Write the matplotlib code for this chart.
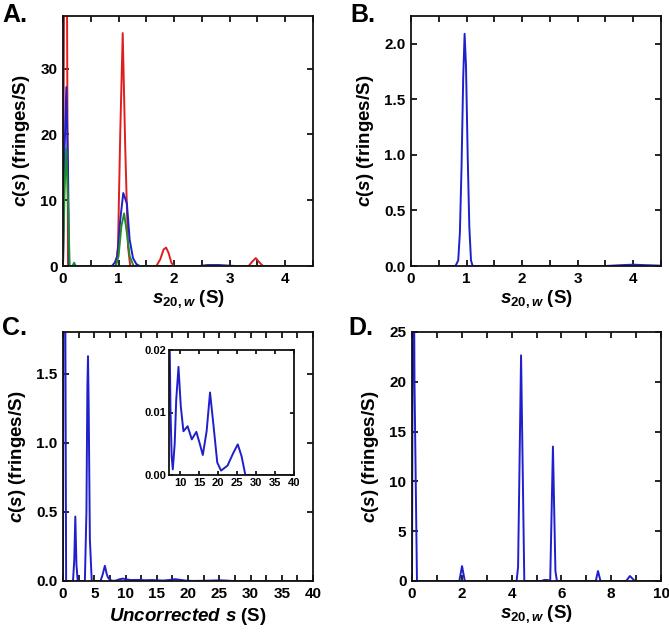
import matplotlib
matplotlib.use("Agg")
import matplotlib.pyplot as plt
from matplotlib.ticker import MultipleLocator

plt.rcParams['font.family'] = ['Liberation Sans', 'DejaVu Sans']
plt.rcParams['font.weight'] = 'bold'
plt.rcParams['axes.labelweight'] = 'bold'
plt.rcParams['mathtext.fontset'] = 'custom'
plt.rcParams['mathtext.it'] = 'Liberation Sans:italic:bold'
plt.rcParams['mathtext.rm'] = 'Liberation Sans:bold'
plt.rcParams['mathtext.bf'] = 'Liberation Sans:bold'

# ---------------- data ----------------
# Panel A
a_red_s = [0, 0.02, 0.045, 0.07, 0.09, 0.95, 0.99, 1.03, 1.075, 1.12, 1.17, 1.21,
           1.68, 1.75, 1.81, 1.855, 1.9, 1.95, 2.0, 3.34, 3.41, 3.47, 3.53, 3.6, 4.5]
a_red_c = [0, 45, 60, 45, 0, 0, 3, 20, 35.4, 18, 3, 0,
           0, 1.0, 2.5, 2.8, 2.0, 0.5, 0, 0, 0.7, 1.2, 0.6, 0, 0]
a_blue_s = [0, 0.03, 0.06, 0.09, 0.11, 0.88, 0.93, 0.98, 1.03, 1.085, 1.15, 1.2,
            1.26, 1.32, 1.38, 2.45, 2.6, 2.8, 3.0, 3.1, 4.5]
a_blue_c = [0, 18, 27.2, 15, 0, 0, 0.5, 1.5, 7, 11.1, 9.5, 4,
            1.2, 0.3, 0, 0, 0.15, 0.15, 0.05, 0, 0]
a_green_s = [0, 0.03, 0.06, 0.09, 0.12, 0.17, 0.2, 0.23, 0.95, 1.0, 1.05, 1.1,
             1.15, 1.2, 1.27, 4.5]
a_green_c = [0, 12, 17.9, 10, 0, 0, 0.5, 0, 0, 1.5, 6, 8.0,
             5, 1.5, 0, 0]

# Panel B
b_s = [0.46, 0.8, 0.85, 0.88, 0.91, 0.94, 0.965, 0.99, 1.02, 1.05, 1.08, 1.11,
       3.5, 3.8, 4.0, 4.2, 4.5]
b_c = [0, 0, 0.05, 0.3, 0.9, 1.7, 2.09, 1.8, 1.0, 0.35, 0.05, 0,
       0, 0.008, 0.012, 0.008, 0.003]

# Panel C (uncorrected s)
c_s = [0, 0.1, 0.2, 0.3, 0.5, 1.6, 1.8, 1.97, 2.15, 2.35, 3.5, 3.75, 3.9, 4.0,
       4.1, 4.3, 4.6, 6.0, 6.3, 6.7, 7.0, 7.2, 7.5, 7.8, 8.1, 8.6, 9.0, 9.6,
       10.2, 10.9, 12.0, 13.1, 14.3, 15.2, 16.0, 17.0, 17.9, 18.8, 19.8, 20.8,
       22.5, 24.0, 25.2, 26.2, 27.2, 40]
c_c = [0, 4, 6, 3, 0, 0, 0.15, 0.466, 0.12, 0, 0, 0.5, 1.4, 1.625,
       1.3, 0.3, 0, 0, 0.04, 0.11, 0.05, 0.025, 0.01, 0.003, 0.0009, 0.005, 0.012, 0.0173,
       0.011, 0.007, 0.0078, 0.0057, 0.0069, 0.005, 0.0032, 0.007, 0.0132, 0.008, 0.002, 0.0007,
       0.0015, 0.0035, 0.0049, 0.003, 0, 0]

# Panel D
d_s = [0, 0.03, 0.06, 0.1, 0.2, 1.9, 2.01, 2.12, 4.2, 4.26, 4.38, 4.51, 5.2, 5.3,
       5.45, 5.55, 5.66, 5.76, 5.82, 7.38, 7.47, 7.57, 8.6, 8.75, 8.95, 10]
d_c = [0, 30, 40, 20, 0, 0, 1.5, 0, 0, 1.4, 22.66, 0, 0, 0.1,
       0.1, 0, 13.5, 1.0, 0, 0, 1.0, 0, 0, 0.5, 0, 0]

RED = '#e01e1e'
BLUE = '#1f1fcc'
GREEN = '#1e8c2a'

W, H = 669, 637
fig = plt.figure(figsize=(W / 100, H / 100), dpi=100)


def ax_px(x0, y0, x1, y1):
    return fig.add_axes([x0 / W, (H - y1) / H, (x1 - x0) / W, (y1 - y0) / H])


def style(ax, fs=11, ticklen=4):
    for sp in ax.spines.values():
        sp.set_linewidth(1.3)
        sp.set_color('#111111')
    ax.tick_params(which='both', direction='in', top=True, right=True,
                   length=ticklen, width=1.2, labelsize=fs, pad=4)


ylab = r'$\mathit{c}$($\mathit{s}$) (fringes/S)'
xlab = r'$\mathit{s}_{\mathit{20,w}}$ (S)'
LW = 1.4
LFS = 13.5

# Panel A
ax = ax_px(63, 16, 313, 266)
ax.plot(a_red_s, a_red_c, color=RED, lw=LW)
ax.plot(a_blue_s, a_blue_c, color=BLUE, lw=LW)
ax.plot(a_green_s, a_green_c, color=GREEN, lw=LW)
ax.set_xlim(0, 4.5)
ax.set_ylim(0, 38)
ax.xaxis.set_major_locator(MultipleLocator(1))
ax.xaxis.set_minor_locator(MultipleLocator(0.5))
ax.yaxis.set_major_locator(MultipleLocator(10))
style(ax)
ax.set_xlabel(xlab, fontsize=LFS, labelpad=2)
ax.set_ylabel(ylab, fontsize=LFS, labelpad=6)

# Panel B
ax = ax_px(411, 16, 661, 266)
ax.plot(b_s, b_c, color=BLUE, lw=LW)
ax.set_xlim(0, 4.5)
ax.set_ylim(0, 2.25)
ax.xaxis.set_major_locator(MultipleLocator(1))
ax.xaxis.set_minor_locator(MultipleLocator(0.5))
ax.yaxis.set_major_locator(MultipleLocator(0.5))
ax.yaxis.set_major_formatter(plt.FormatStrFormatter('%.1f'))
style(ax)
ax.set_xlabel(xlab, fontsize=LFS, labelpad=2)
ax.set_ylabel(ylab, fontsize=LFS, labelpad=6)

# Panel C
ax = ax_px(63, 332, 313, 581)
ax.plot(c_s, c_c, color=BLUE, lw=LW)
ax.set_xlim(0, 40)
ax.set_ylim(0, 1.8)
ax.xaxis.set_major_locator(MultipleLocator(5))
ax.xaxis.set_minor_locator(MultipleLocator(2.5))
ax.yaxis.set_major_locator(MultipleLocator(0.5))
ax.yaxis.set_major_formatter(plt.FormatStrFormatter('%.1f'))
style(ax)
ax.set_xlabel(r'$\mathit{Uncorrected\ s}$ (S)', fontsize=LFS, labelpad=4)
ax.set_ylabel(ylab, fontsize=LFS, labelpad=6)

# Inset
axi = ax_px(169, 350, 294, 475)
axi.plot(c_s, c_c, color=BLUE, lw=LW)
axi.set_xlim(7.1, 40)
axi.set_ylim(0, 0.02)
axi.set_xticks([10, 15, 20, 25, 30, 35, 40])
axi.set_yticks([0, 0.01, 0.02])
axi.yaxis.set_major_formatter(plt.FormatStrFormatter('%.2f'))
style(axi, fs=8, ticklen=3)
axi.tick_params(pad=2)

# Panel D
ax = ax_px(412, 332, 661, 581)
ax.plot(d_s, d_c, color=BLUE, lw=LW)
ax.set_xlim(0, 10)
ax.set_ylim(0, 25)
ax.xaxis.set_major_locator(MultipleLocator(2))
ax.xaxis.set_minor_locator(MultipleLocator(1))
ax.yaxis.set_major_locator(MultipleLocator(5))
style(ax)
ax.set_xlabel(xlab, fontsize=LFS, labelpad=2)
ax.set_ylabel(ylab, fontsize=LFS, labelpad=6)

# Panel letters
for lab, x, y in [('A.', 2, 3), ('B.', 350, 3), ('C.', 2, 316), ('D.', 348, 316)]:
    fig.text(x / W, 1 - y / H, lab, fontsize=18, fontweight='bold', va='top', ha='left')

fig.savefig('out.png', dpi=100)
